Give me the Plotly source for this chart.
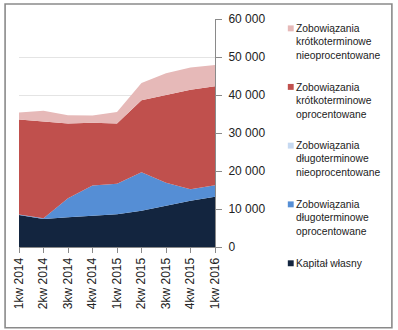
import plotly.graph_objects as go

categories = ["1kw 2014", "2kw 2014", "3kw 2014", "4kw 2014", "1kw 2015",
              "2kw 2015", "3kw 2015", "4kw 2015", "1kw 2016"]
kapital = [8400, 7400, 7800, 8150, 8650, 9550, 10850, 12150, 13200]
dl_oproc = [170, 170, 5030, 8060, 7980, 10140, 6070, 3030, 3030]
dl_nieoproc = [0, 0, 0, 0, 0, 0, 0, 0, 0]
kr_oproc = [24970, 25410, 19680, 16480, 15860, 18900, 22970, 26190, 26100]
kr_nieoproc = [1830, 2860, 2170, 1910, 3040, 4600, 5810, 5890, 5550]

series = [
    ("Kapitał własny", kapital, "#13253f"),
    ("Zobowiązania<br>długoterminowe<br>oprocentowane", dl_oproc, "#558ed5"),
    ("Zobowiązania<br>długoterminowe<br>nieoprocentowane", dl_nieoproc, "#c6d9f1"),
    ("Zobowiązania<br>krótkoterminowe<br>oprocentowane", kr_oproc, "#c0504d"),
    ("Zobowiązania<br>krótkoterminowe<br>nieoprocentowane", kr_nieoproc, "#e6b9b8"),
]

y_ticks = [0, 10000, 20000, 30000, 40000, 50000, 60000]

W, H = 398, 330
L, R, T, B = 15, 183, 16, 83
pw, ph = W - L - R, H - T - B

def px_x(px):
    return (px - L) / pw

def px_y(py):
    return (H - B - py) / ph

fig = go.Figure()
for name, vals, color in series:
    fig.add_trace(go.Scatter(
        x=list(range(len(categories))), y=vals, name=name,
        mode="lines", stackgroup="one", line=dict(width=0, color=color),
        fillcolor=color, showlegend=False, hoverinfo="skip"))

shapes = []
annotations = []
# custom legend (top to bottom: reverse of stacking order)
legend_items = list(reversed(series))
first_line_centers = [25.5, 84.8, 144.3, 203.8, 263.5]
for (name, vals, color), cy in zip(legend_items, first_line_centers):
    shapes.append(dict(type="rect", xref="paper", yref="paper",
                       x0=px_x(289.3), x1=px_x(295.3),
                       y0=px_y(cy - 3), y1=px_y(cy + 3),
                       fillcolor=color, line=dict(width=0)))
    annotations.append(dict(text=name, xref="paper", yref="paper",
                            x=px_x(296), y=px_y(cy - 7.5),
                            xanchor="left", yanchor="top", align="left",
                            showarrow=False,
                            font=dict(family="Liberation Sans", size=10.3, color="#222222")))

# outer chart border
shapes.append(dict(type="rect", xref="paper", yref="paper",
                   x0=px_x(0.8), x1=px_x(395.5), y0=px_y(0.8), y1=px_y(328.8),
                   line=dict(color="#8a8a8a", width=1.6), fillcolor="rgba(0,0,0,0)",
                   layer="above"))

fig.update_layout(
    width=W, height=H,
    margin=dict(l=L, r=R, t=T, b=B),
    paper_bgcolor="white", plot_bgcolor="white",
    separators=". ",
    font=dict(family="Liberation Sans", size=12, color="#222222"),
    shapes=shapes, annotations=annotations,
    xaxis=dict(
        range=[0, len(categories) - 1],
        tickmode="array", tickvals=list(range(len(categories))), ticktext=categories,
        tickangle=-90, ticks="outside", ticklen=5, tickcolor="#8a8a8a",
        showline=True, linecolor="#8a8a8a", linewidth=1,
        showgrid=False, zeroline=False, fixedrange=True,
        tickfont=dict(family="Liberation Sans", size=12, color="#222222"),
    ),
    yaxis=dict(
        range=[0, 60000], side="right",
        tickmode="array", tickvals=y_ticks, tickformat=",d",
        ticks="outside", ticklen=6, tickcolor="#8a8a8a",
        showline=True, linecolor="#8a8a8a", linewidth=1,
        showgrid=True, gridcolor="#e4e4e4", gridwidth=1,
        zeroline=False, fixedrange=True, ticklabelstandoff=4,
        tickfont=dict(family="Liberation Sans", size=12, color="#222222"),
    ),
)

fig.write_html("out.html")
